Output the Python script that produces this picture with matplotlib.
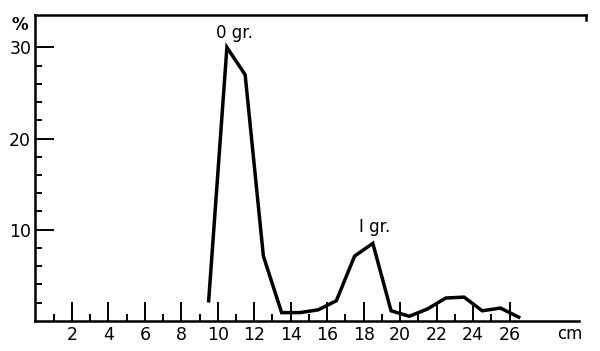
import matplotlib
matplotlib.use('Agg')
import matplotlib.pyplot as plt
import numpy as np

# length classes (cm) and share of catch (%)
length_cm = [9.5, 10.5, 11.5, 12.5, 13.5, 14.5, 15.5, 16.5, 17.5, 18.5,
             19.5, 20.5, 21.5, 22.5, 23.5, 24.5, 25.5, 26.5]
percent = [2.2, 30.0, 27.0, 7.1, 0.9, 0.9, 1.2, 2.2, 7.1, 8.5,
           1.1, 0.5, 1.3, 2.5, 2.6, 1.1, 1.4, 0.4]

xtick_major = list(range(2, 27, 2))
xtick_minor = list(range(1, 27, 2))
ytick_major = [10, 20, 30]
ytick_minor = [2, 4, 6, 8, 12, 14, 16, 18, 22, 24, 26, 28]

group_labels = ['0 gr.', 'I gr.']
group_pos = [(10.9, 30.6), (18.6, 9.3)]

fig = plt.figure(figsize=(6.0, 3.51), dpi=100)
ax = fig.add_axes([0.059, 0.086, 0.918, 0.87])

ax.plot(length_cm, percent, color='black', lw=2.5, solid_joinstyle='miter')

ax.set_xlim(0, 30.2)
ax.set_ylim(0, 33.5)

for s in ['left', 'bottom', 'top']:
    ax.spines[s].set_linewidth(1.8)
ax.spines['right'].set_visible(False)
ax.spines['bottom'].set_bounds(0, 29.8)

# small hook at the right end of the top line
ax.plot([30.2, 30.2], [33.5, 33.0], color='black', lw=1.8, clip_on=False)

ax.set_xticks(xtick_major)
ax.set_xticks(xtick_minor, minor=True)
ax.set_xticklabels([str(v) for v in xtick_major])
ax.set_yticks(ytick_major)
ax.set_yticks(ytick_minor, minor=True)
ax.set_yticklabels([str(v) for v in ytick_major])

ax.tick_params(axis='both', which='major', direction='in', length=14,
               width=1.4, labelsize=12.5, color='black')
ax.tick_params(axis='both', which='minor', direction='in', length=5,
               width=1.4, color='black')
ax.tick_params(axis='x', which='major', pad=4)
ax.tick_params(axis='y', which='major', pad=3)

for lab, (x, y) in zip(group_labels, group_pos):
    ax.text(x, y, lab, ha='center', va='bottom', fontsize=12)

ax.text(-0.4, 32.5, '%', ha='right', va='center', fontsize=12,
        fontweight='bold')
ax.text(29.3, -1.5, 'cm', ha='center', va='center', fontsize=12,
        clip_on=False)

fig.savefig('out.png', dpi=100)
